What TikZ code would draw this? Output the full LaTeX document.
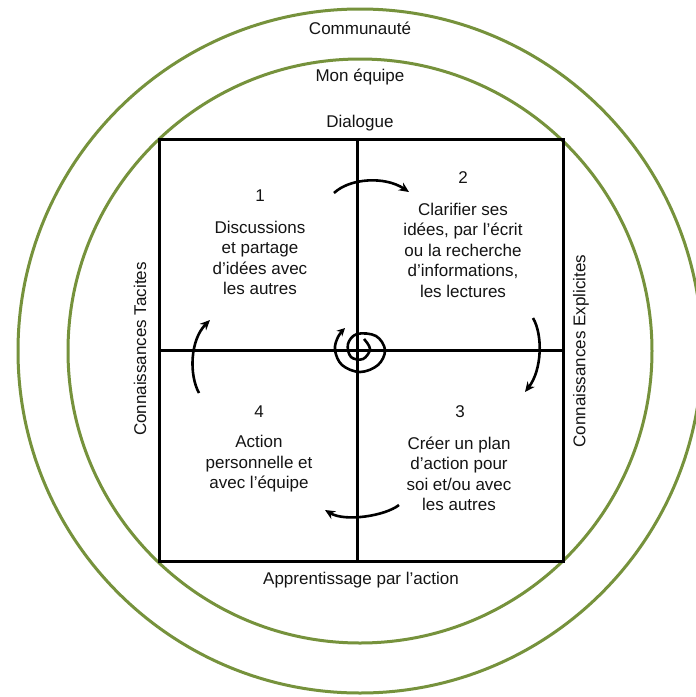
\documentclass[tikz,border=0pt]{standalone}
\usepackage{fontspec}
\setmainfont{Liberation Sans}
\usetikzlibrary{arrows.meta}
\definecolor{ringgreen}{RGB}{118,146,60}
\definecolor{txt}{RGB}{20,20,20}
\tikzset{
  ring/.style={draw=ringgreen, line width=3pt},
  gridline/.style={draw=black, line width=3pt},
  cyclearrow/.style={draw=black, line width=2.6pt, -{Stealth[length=10pt,width=9pt]}},
  lbl/.style={text=txt, font=\fontsize{17}{20.5}\selectfont, inner sep=0pt},
  body/.style={lbl, align=center},
}
\begin{document}
\begin{tikzpicture}[x=1pt,y=-1pt]
\useasboundingbox (0,0) rectangle (696,697);
\clip (0,0) rectangle (696,697);
\fill[white] (0,0) rectangle (696,697);
% rings
\draw[ring] (360,351) circle[radius=342];
\draw[ring] (360,351) circle[radius=292];
% square and cross
\draw[gridline] (159,139) rectangle (563,561);
\draw[gridline] (357,139) -- (357,561);
\draw[gridline] (159,350) -- (563,350);
% ring labels
\node[lbl] (comm) at (360,28) {Communauté};
\node[lbl] (equipe) at (360,77) {Mon équipe};
\node[lbl] (dial) at (360,123) {Dialogue};
\node[lbl] (appr) at (361,580) {Apprentissage par l’action};
\node[lbl, rotate=90] (tac) at (140,349) {Connaissances Tacites};
\node[lbl, rotate=90] (expl) at (581,351) {Connaissances Explicites};
% quadrant texts
\node[lbl] (n1) at (260,196) {1};
\node[body] (t1) at (260,258) {Discussions\\et partage\\d’idées avec\\les autres};
\node[lbl] (n2) at (463,178) {2};
\node[body] (t2) at (463,250) {Clarifier ses\\idées, par l’écrit\\ou la recherche\\d’informations,\\les lectures};
\node[lbl] (n3) at (460,412) {3};
\node[body] (t3) at (459,474) {Créer un plan\\d’action pour\\soi et/ou avec\\les autres};
\node[lbl] (n4) at (259,412) {4};
\node[body] (t4) at (259,464) {Action\\personnelle et\\avec l’équipe};
% cycle arrows
\coordinate (a1s) at (334,193); \coordinate (a1e) at (409,192);
\coordinate (a2s) at (533,318); \coordinate (a2e) at (525,392);
\coordinate (a3s) at (399,505); \coordinate (a3e) at (325,510);
\coordinate (a4s) at (199,393); \coordinate (a4e) at (210,320);
\draw[cyclearrow] (a1s) .. controls (350,178) and (385,176) .. (a1e);
\draw[cyclearrow] (a2s) .. controls (543,335) and (542,370) .. (a2e);
\draw[cyclearrow] (a3s) .. controls (385,516) and (345,522) .. (a3e);
\draw[cyclearrow] (a4s) .. controls (189,375) and (190,340) .. (a4e);
% spiral
\draw[black, line width=2.6pt, -{Stealth[length=8pt,width=8pt]}]
  plot[smooth, tension=0.6] coordinates {(364,339) (370,349) (363,359) (351,357) (348,344) (357,334) (376,336) (385,350) (378,365) (360,372) (342,365) (335,350) (338,337) (345,328)};
\end{tikzpicture}
\end{document}
